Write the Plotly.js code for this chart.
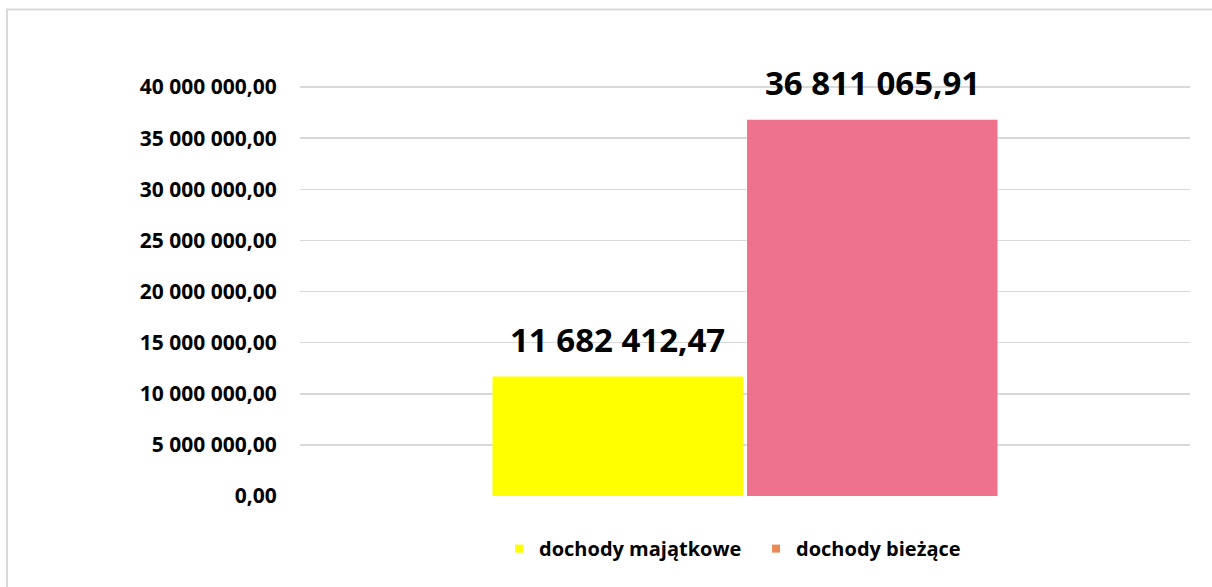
<!DOCTYPE html>
<html>
<head>
<meta charset="utf-8">
<script src="https://cdn.plot.ly/plotly-3.0.1.min.js"></script>
<style>html,body{margin:0;padding:0;background:#fff;}#chart{width:1212px;height:587px;}</style>
</head>
<body>
<div id="chart"></div>
<script>
// Data
const categories = [''];
const seriesNames = ['dochody majątkowe', 'dochody bieżące'];
const seriesValues = [11682412.47, 36811065.91];
const barColors = ['#FFFF00', '#EE728C'];
const legendColors = ['#FFFF00', '#EC8A55'];
const yTickVals = [0, 5000000, 10000000, 15000000, 20000000, 25000000, 30000000, 35000000, 40000000];

function fmtPL(v) {
  const parts = v.toFixed(2).split('.');
  const intPart = parts[0].replace(/\B(?=(\d{3})+(?!\d))/g, ' ');
  return intPart + ',' + parts[1];
}

const FONT = '"Open Sans", "Noto Sans", sans-serif';
const bargap = 0.428;
const barOffset = (1 - bargap) / 4;

const traces = [];
seriesNames.forEach((name, i) => {
  traces.push({
    type: 'bar', x: categories, y: [seriesValues[i]], name: name,
    marker: {color: barColors[i]}, showlegend: false, hoverinfo: 'none'
  });
});
seriesNames.forEach((name, i) => {
  traces.push({
    type: 'scatter', mode: 'markers', x: [null], y: [null], name: name,
    marker: {color: legendColors[i], symbol: 'square', size: 8}, showlegend: true, hoverinfo: 'none'
  });
});

const annotations = seriesValues.map((v, i) => ({
  xref: 'x', yref: 'y', x: (i === 0 ? -barOffset : barOffset), y: v,
  text: '<b>' + fmtPL(v) + '</b>', showarrow: false,
  yanchor: 'middle', yshift: 37,
  font: {family: FONT, size: 33, color: '#000'}
}));

const layout = {
  width: 1212, height: 587,
  margin: {l: 300, r: 22, t: 85, b: 91},
  paper_bgcolor: '#fff', plot_bgcolor: '#fff',
  separators: ', ',
  barmode: 'group', bargap: bargap, bargroupgap: 0.016,
  font: {family: FONT, color: '#000'},
  xaxis: {type: 'category', showticklabels: false, showgrid: false, zeroline: false, showline: false, range: [-0.5, 0.5]},
  yaxis: {
    range: [0, 40200000], tickvals: yTickVals,
    ticktext: yTickVals.map(v => '<b>' + fmtPL(v) + '</b>'),
    tickmode: 'array',
    showgrid: true, gridcolor: '#D9D9D9', gridwidth: 1.5,
    zeroline: false, showline: false,
    ticks: 'outside', ticklen: 18, tickcolor: 'rgba(0,0,0,0)',
    tickfont: {family: FONT, size: 21, color: '#000'}
  },
  legend: {
    orientation: 'h', x: 0.5124, xanchor: 'center', y: -0.128, yanchor: 'middle',
    font: {family: FONT, size: 20, color: '#000', weight: 'bold'},
    itemwidth: 30, tracegroupgap: 0,
    entrywidth: 212, entrywidthmode: 'pixels'
  },
  annotations: annotations,
  shapes: [{
    type: 'rect', xref: 'paper', yref: 'paper',
    x0: -293/890, x1: 1.2, y0: -1, y1: 1 + (85 - 9.5)/411,
    line: {color: '#D9D9D9', width: 2}, fillcolor: 'rgba(0,0,0,0)', layer: 'below'
  }]
};

Plotly.newPlot('chart', traces, layout, {displayModeBar: false, staticPlot: true});
</script>
</body>
</html>
